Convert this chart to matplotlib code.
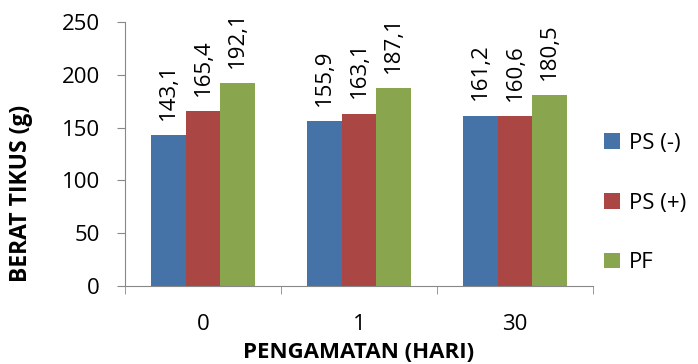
import matplotlib.pyplot as plt
import numpy as np

plt.rcParams['font.family'] = ['Open Sans', 'DejaVu Sans']

categories = ['0', '1', '30']
series = ['PS (-)', 'PS (+)', 'PF']
ps_neg = [143.1, 155.9, 161.2]
ps_pos = [165.4, 163.1, 160.6]
pf = [192.1, 187.1, 180.5]
colors = ['#4572A7', '#AA4643', '#89A54E']

fig = plt.figure(figsize=(6.98, 3.64), dpi=100)
ax = fig.add_axes([0.179, 0.2143, 0.6706, 0.7253])

x = np.arange(len(categories))
w = 0.222
for i, (vals, name) in enumerate(zip([ps_neg, ps_pos, pf], series)):
    pos = x + (i - 1) * w
    ax.bar(pos, vals, w, color=colors[i], label=name)
    for px, v in zip(pos, vals):
        ax.annotate(f'{v:.1f}'.replace('.', ','), (px, v), xytext=(0, 11),
                    textcoords='offset points', rotation=90,
                    ha='center', va='bottom', fontsize=16)

ax.set_xlim(-0.5, 2.5)
ax.set_ylim(0, 250)
ax.set_yticks(range(0, 251, 50))
ax.set_xticks(x)
ax.set_xticklabels(categories)
ax.set_xticks([-0.5, 0.5, 1.5, 2.5], minor=True)
ax.tick_params(axis='x', which='major', length=0, pad=20, labelsize=16)
ax.tick_params(axis='x', which='minor', length=6, color='#888888', direction='out')
ax.tick_params(axis='y', length=6, color='#888888', labelsize=16, pad=12)

for s in ['top', 'right']:
    ax.spines[s].set_visible(False)
for s in ['left', 'bottom']:
    ax.spines[s].set_color('#888888')

ax.set_ylabel('BERAT TIKUS (g)', fontsize=16.5, fontweight='bold')
ax.yaxis.set_label_coords(-0.197, 0.352)
ax.set_xlabel('PENGAMATAN (HARI)', fontsize=16, fontweight='bold', labelpad=5)

ax.legend(loc='center left', bbox_to_anchor=(1.0, 0.314), frameon=False,
          fontsize=16, handlelength=0.7, handleheight=0.7, labelspacing=1.75,
          handletextpad=0.4, borderpad=0)

fig.savefig('out.png', dpi=100)
